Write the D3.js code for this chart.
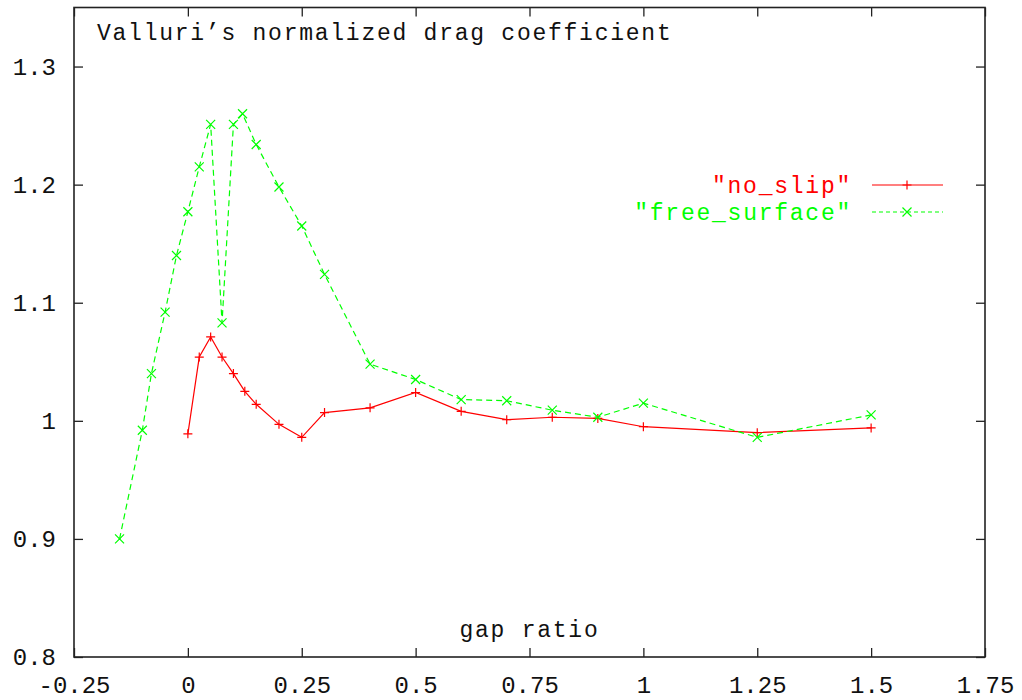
<!DOCTYPE html>
<html>
<head>
<meta charset="utf-8">
<script src="https://cdn.jsdelivr.net/npm/d3@7"></script>
<style>
  html, body { margin: 0; padding: 0; background: #fff; }
  svg { display: block; }
  text { font-family: "Liberation Mono", "DejaVu Sans Mono", monospace; }
</style>
</head>
<body>
<svg id="chart" width="1022" height="700"></svg>
<script>
// Gap ratio vs. normalized drag coefficient, two boundary conditions
const noSlipGap   = [0, 0.025, 0.05, 0.075, 0.1, 0.125, 0.15, 0.2, 0.25, 0.3, 0.4, 0.5, 0.6, 0.7, 0.8, 0.9, 1.0, 1.25, 1.5];
const noSlipCd    = [0.989, 1.054, 1.071, 1.054, 1.040, 1.025, 1.014, 0.997, 0.986, 1.007, 1.011, 1.024, 1.008, 1.001, 1.003, 1.002, 0.995, 0.990, 0.994];

const freeSurfGap = [-0.15, -0.1, -0.08, -0.05, -0.025, 0, 0.025, 0.05, 0.075, 0.1, 0.12, 0.15, 0.2, 0.25, 0.3, 0.4, 0.5, 0.6, 0.7, 0.8, 0.9, 1.0, 1.25, 1.5];
const freeSurfCd  = [0.900, 0.992, 1.040, 1.092, 1.140, 1.177, 1.215, 1.251, 1.083, 1.251, 1.260, 1.234, 1.198, 1.165, 1.124, 1.048, 1.035, 1.018, 1.017, 1.009, 1.003, 1.015, 0.986, 1.005];

const xTicks = [-0.25, 0, 0.25, 0.5, 0.75, 1, 1.25, 1.5, 1.75];
const xTickLabels = ["-0.25", "0", "0.25", "0.5", "0.75", "1", "1.25", "1.5", "1.75"];
const yTicks = [0.8, 0.9, 1.0, 1.1, 1.2, 1.3];
const yTickLabels = ["0.8", "0.9", "1", "1.1", "1.2", "1.3"];

const titleText = "Valluri\u2019s normalized drag coefficient";
const xLabelText = "gap ratio";
const seriesNames = ["\"no_slip\"", "\"free_surface\""];

const box = { left: 74, right: 985, top: 7.5, bottom: 657 };
const svg = d3.select("#chart");

const x = d3.scaleLinear().domain([-0.25, 1.75]).range([box.left, box.right]);
const y = d3.scaleLinear().domain([0.8, 1.35]).range([box.bottom, box.top]);

const RED = "#ff0000", GREEN = "#00ff00", INK = "#222";
const TICK = 9;

// axes with inward ticks on all four sides
const axisStyle = g => {
  g.select(".domain").remove();
  g.selectAll(".tick line").attr("stroke", INK).attr("stroke-width", 1.3);
  g.selectAll(".tick text").attr("fill", "#111").attr("font-size", 24)
    .attr("font-family", "'Liberation Mono', monospace");
};

svg.append("g").attr("transform", `translate(0,${box.bottom})`)
  .call(d3.axisBottom(x).tickValues(xTicks).tickSizeInner(-TICK).tickSizeOuter(0)
    .tickPadding(19).tickFormat((d, i) => xTickLabels[i]))
  .call(axisStyle);

svg.append("g").attr("transform", `translate(0,${box.top})`)
  .call(d3.axisTop(x).tickValues(xTicks).tickSizeInner(-TICK).tickSizeOuter(0).tickFormat(""))
  .call(axisStyle);

svg.append("g").attr("transform", `translate(${box.left},0)`)
  .call(d3.axisLeft(y).tickValues(yTicks).tickSizeInner(-TICK).tickSizeOuter(0)
    .tickPadding(18).tickFormat((d, i) => yTickLabels[i]))
  .call(axisStyle);

svg.append("g").attr("transform", `translate(${box.right},0)`)
  .call(d3.axisRight(y).tickValues(yTicks).tickSizeInner(-TICK).tickSizeOuter(0).tickFormat(""))
  .call(axisStyle);

// plot border
svg.append("rect")
  .attr("x", box.left).attr("y", box.top)
  .attr("width", box.right - box.left).attr("height", box.bottom - box.top)
  .attr("fill", "none").attr("stroke", INK).attr("stroke-width", 1.6);

// title inside the frame and x label near the bottom
svg.append("text").attr("x", 97).attr("y", 40)
  .attr("font-size", 23).attr("letter-spacing", 1.75).attr("fill", "#111")
  .text(titleText);

svg.append("text").attr("x", (box.left + box.right) / 2).attr("y", 637)
  .attr("text-anchor", "middle").attr("font-size", 23).attr("letter-spacing", 1.75).attr("fill", "#111")
  .text(xLabelText);

const line = d3.line().x(d => x(d[0])).y(d => y(d[1]));
const plusPath = (cx, cy, r) => `M${cx - r},${cy}H${cx + r}M${cx},${cy - r}V${cy + r}`;
const crossPath = (cx, cy, r) => `M${cx - r},${cy - r}L${cx + r},${cy + r}M${cx - r},${cy + r}L${cx + r},${cy - r}`;

const series = [
  { name: seriesNames[0], gap: noSlipGap, cd: noSlipCd, color: RED, dash: null, marker: plusPath },
  { name: seriesNames[1], gap: freeSurfGap, cd: freeSurfCd, color: GREEN, dash: "6,4", marker: crossPath }
];

series.forEach((s, k) => {
  const pts = s.gap.map((g, i) => [g, s.cd[i]]);
  svg.append("path").datum(pts)
    .attr("d", line)
    .attr("fill", "none").attr("stroke", s.color).attr("stroke-width", 1.2)
    .attr("stroke-dasharray", s.dash);
  svg.append("path")
    .attr("d", pts.map(p => s.marker(x(p[0]), y(p[1]), 4.5)).join(""))
    .attr("fill", "none").attr("stroke", s.color).attr("stroke-width", 1.2);

  // legend entry
  const ly = 185 + k * 27;
  svg.append("text").attr("x", 852).attr("y", ly).attr("dy", "0.35em")
    .attr("text-anchor", "end").attr("font-size", 23).attr("letter-spacing", 1.75)
    .attr("fill", s.color).text(s.name);
  svg.append("line").attr("x1", 872).attr("x2", 943).attr("y1", ly).attr("y2", ly)
    .attr("stroke", s.color).attr("stroke-width", 1.2)
    .attr("stroke-dasharray", s.dash ? "4,3" : null);
  svg.append("path").attr("d", s.marker(907, ly, 4.5))
    .attr("fill", "none").attr("stroke", s.color).attr("stroke-width", 1.2);
});
</script>
</body>
</html>
